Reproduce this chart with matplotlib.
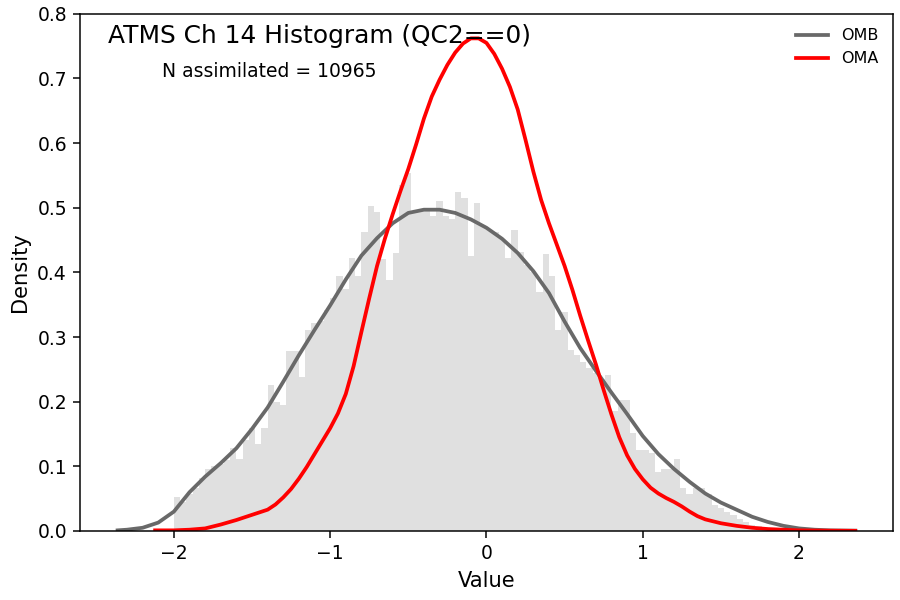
import numpy as np
import matplotlib
matplotlib.use('Agg')
from matplotlib import pyplot as plt

# ---------------------------------------------
# ATMS ch14 O-B / O-A 히스토그램 (QC2==0)
# ---------------------------------------------

bin_width = 0.04
bin_start = -2.0

# 히스토그램 밀도값 (-2.00 ~ 1.96, 0.04 간격)
hist_density = [
    0.052, 0.045, 0.058, 0.066, 0.082, 0.096, 0.100, 0.104, 0.110, 0.128,
    0.111, 0.140, 0.159, 0.135, 0.159, 0.226, 0.200, 0.195, 0.279, 0.279,
    0.238, 0.311, 0.322, 0.325, 0.342, 0.360, 0.395, 0.375, 0.422, 0.394,
    0.462, 0.502, 0.494, 0.420, 0.389, 0.430, 0.535, 0.553, 0.495, 0.497,
    0.495, 0.488, 0.510, 0.488, 0.483, 0.525, 0.515, 0.425, 0.507, 0.472,
    0.465, 0.462, 0.452, 0.423, 0.466, 0.432, 0.412, 0.400, 0.369, 0.429,
    0.394, 0.311, 0.338, 0.280, 0.272, 0.262, 0.252, 0.245, 0.235, 0.241,
    0.185, 0.203, 0.203, 0.151, 0.125, 0.125, 0.120, 0.092, 0.096, 0.096,
    0.111, 0.067, 0.057, 0.066, 0.066, 0.058, 0.040, 0.036, 0.030, 0.025,
    0.018, 0.014, 0.010, 0.008, 0.006, 0.004, 0.003, 0.002, 0.002, 0.001,
]

# OMB 커브 (kde)
omb_x = [-2.36, -2.3, -2.2, -2.1, -2.0, -1.9, -1.8, -1.7, -1.6, -1.5,
         -1.4, -1.3, -1.2, -1.1, -1.0, -0.9, -0.8, -0.7, -0.6, -0.5,
         -0.4, -0.3, -0.2, -0.1, 0.0, 0.1, 0.2, 0.3, 0.4, 0.5,
         0.6, 0.7, 0.8, 0.9, 1.0, 1.1, 1.2, 1.3, 1.4, 1.5,
         1.6, 1.7, 1.8, 1.9, 2.0, 2.1, 2.2, 2.36]
omb_y = [0.001, 0.002, 0.005, 0.013, 0.030, 0.060, 0.084, 0.105, 0.128, 0.158,
         0.191, 0.231, 0.272, 0.311, 0.349, 0.389, 0.426, 0.453, 0.476, 0.492,
         0.497, 0.497, 0.492, 0.482, 0.469, 0.452, 0.430, 0.402, 0.368, 0.324,
         0.283, 0.248, 0.214, 0.181, 0.147, 0.119, 0.096, 0.076, 0.058, 0.044,
         0.033, 0.022, 0.014, 0.008, 0.004, 0.002, 0.001, 0.0005]

# OMA 커브 (kde)
oma_x = [-2.12, -2.0, -1.9, -1.8, -1.7, -1.6, -1.5, -1.4, -1.35, -1.3,
         -1.25, -1.2, -1.15, -1.1, -1.05, -1.0, -0.95, -0.9, -0.85, -0.8,
         -0.75, -0.7, -0.65, -0.6, -0.55, -0.5, -0.45, -0.4, -0.35, -0.3,
         -0.25, -0.2, -0.15, -0.1, -0.05, 0.0, 0.05, 0.1, 0.15, 0.2,
         0.25, 0.3, 0.35, 0.4, 0.45, 0.5, 0.55, 0.6, 0.65, 0.7,
         0.75, 0.8, 0.85, 0.9, 0.95, 1.0, 1.05, 1.1, 1.15, 1.2,
         1.25, 1.3, 1.35, 1.4, 1.45, 1.5, 1.6, 1.7, 1.8, 1.9,
         2.0, 2.2, 2.36]
oma_y = [0.001, 0.001, 0.002, 0.004, 0.010, 0.017, 0.025, 0.033, 0.041, 0.052,
         0.065, 0.081, 0.099, 0.119, 0.139, 0.159, 0.182, 0.212, 0.255, 0.308,
         0.360, 0.410, 0.452, 0.490, 0.526, 0.560, 0.598, 0.638, 0.672, 0.698,
         0.721, 0.740, 0.754, 0.762, 0.762, 0.755, 0.738, 0.715, 0.687, 0.652,
         0.605, 0.556, 0.512, 0.476, 0.443, 0.410, 0.373, 0.333, 0.295, 0.258,
         0.218, 0.180, 0.145, 0.117, 0.096, 0.080, 0.067, 0.058, 0.051, 0.045,
         0.038, 0.030, 0.023, 0.018, 0.015, 0.012, 0.008, 0.005, 0.003, 0.002,
         0.001, 0.0005, 0.0003]

n_assim = 10965

# --------------------------------------
# 그래프 그리기
# --------------------------------------
dpi = 135
fig = plt.figure(figsize=(900 / dpi, 600 / dpi), dpi=dpi)
ax = fig.add_subplot(111)
fig.subplots_adjust(left=0.089, right=0.992, bottom=0.115, top=0.977)

bin_left = bin_start + bin_width * np.arange(len(hist_density))
ax.bar(bin_left, hist_density, width=bin_width, align='edge', color='#e0e0e0', linewidth=0)

ax.plot(omb_x, omb_y, color='dimgray', lw=2, label='OMB')
ax.plot(oma_x, oma_y, color='red', lw=2, label='OMA')

ax.set_xlim(-2.6, 2.6)
ax.set_ylim(0, 0.8)
ax.set_xlabel('Value', fontsize=11.2)
ax.set_ylabel('Density', fontsize=11.2)

ax.text(0.034, 0.958, 'ATMS Ch 14 Histogram (QC2==0)', transform=ax.transAxes,
        fontsize=13.3, ha='left', va='center')
ax.text(0.101, 0.888, 'N assimilated = {}'.format(n_assim), transform=ax.transAxes,
        fontsize=10, ha='left', va='center')

ax.legend(loc='upper right', frameon=False, fontsize=8.5)

plt.savefig('out.png', dpi=dpi)
